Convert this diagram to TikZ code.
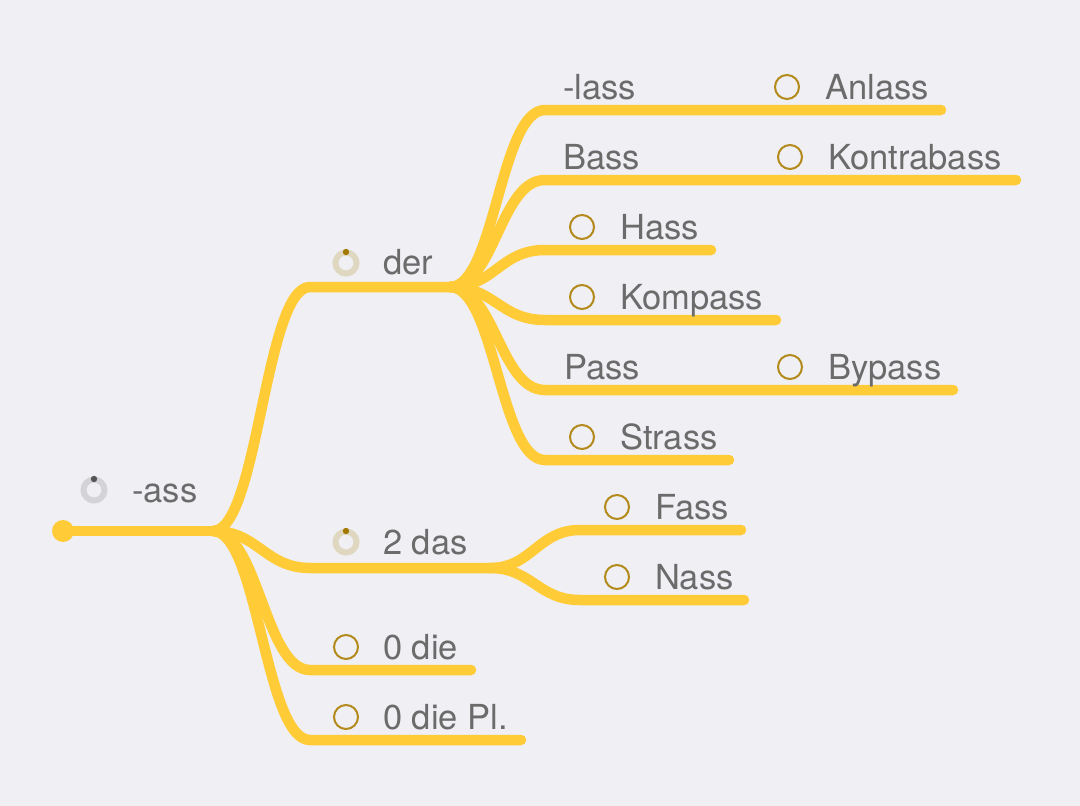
\documentclass[tikz,border=0pt]{standalone}
\usepackage{fontspec}
\setmainfont{TeX Gyre Heros}
\definecolor{bgcol}{HTML}{EFEFF4}
\definecolor{linecol}{HTML}{FFCC38}
\definecolor{textcol}{HTML}{6B6B6B}
\definecolor{boxcol}{HTML}{B48A1C}
\definecolor{ringtan}{HTML}{DFD7C0}
\definecolor{dotgold}{HTML}{A27800}
\definecolor{ringgray}{HTML}{D4D4D8}
\definecolor{dotgray}{HTML}{555555}
\tikzset{
  branch/.style={line width=10.5pt, draw=linecol, line cap=round},
  lbl/.style={anchor=base west, inner sep=0pt, text=textcol, font=\fontsize{34.5}{40}\selectfont},
  checkbox/.style={circle, draw=boxcol, line width=2pt, minimum size=24pt, inner sep=0pt},
  ring/.style={line width=6pt},
}

\begin{document}
\begin{tikzpicture}[x=1pt, y=-1pt]
		\fill[bgcol] (0,0) rectangle (1080,806);
		\useasboundingbox (0,0) rectangle (1080,806);
		
		% branch points
		\coordinate (root) at (63,531);
		\coordinate (fork) at (213,531);
		\coordinate (derA) at (310,287);
		\coordinate (derB) at (450,287);
		\coordinate (dasA) at (310,568);
		\coordinate (dasB) at (490,568);
		\coordinate (dieA) at (310,670);
		\coordinate (dieB) at (471,670);
		\coordinate (plA) at (310,740);
		\coordinate (plB) at (521,740);
		
		\coordinate (lassA) at (545,110);
		\coordinate (lassB) at (941,110);
		\coordinate (bassA) at (545,180);
		\coordinate (bassB) at (1016,180);
		\coordinate (hassA) at (545,250);
		\coordinate (hassB) at (711,250);
		\coordinate (kompassA) at (545,320);
		\coordinate (kompassB) at (776,320);
		\coordinate (passA) at (545,390);
		\coordinate (passB) at (953,390);
		\coordinate (strassA) at (545,460);
		\coordinate (strassB) at (729,460);
		
		\coordinate (fassA) at (580,530);
		\coordinate (fassB) at (741,530);
		\coordinate (nassA) at (580,600);
		\coordinate (nassB) at (744,600);
		
		% connectors
		\draw[branch] (root) -- (fork);
		\fill[linecol] (root) circle (11);
		\foreach \n in {der,das,die,pl}
			\draw[branch] (fork) .. controls +(45,0) and +(-45,0) .. (\n A) -- (\n B);
		\foreach \n in {lass,bass,hass,kompass,pass,strass}
			\draw[branch] (derB) .. controls +(45,0) and +(-45,0) .. (\n A) -- (\n B);
		\foreach \n in {fass,nass}
			\draw[branch] (dasB) .. controls +(42,0) and +(-42,0) .. (\n A) -- (\n B);
		
		% progress rings
		\draw[ring, ringgray] (94,490) circle (10.5);
		\fill[dotgray] (94,479) circle (3.2);
		\draw[ring, ringtan] (346,263) circle (10.5);
		\fill[dotgold] (346,252) circle (3.2);
		\draw[ring, ringtan] (346,542) circle (10.5);
		\fill[dotgold] (346,531) circle (3.2);
		
		% labels
		\node[lbl] (ass) at (132,502) {-ass};
		\node[lbl] (der) at (383,274) {der};
		\node[lbl] (das) at (383,554) {2 das};
		\node[checkbox] (cbdie) at (346,647) {};
		\node[lbl] (die) at (383,659) {0 die};
		\node[checkbox] (cbpl) at (346,717) {};
		\node[lbl] (pl) at (383,729) {0 die Pl.};
		
		\node[lbl] (lass) at (563,99) {-lass};
		\node[checkbox] (cbanlass) at (787,87) {};
		\node[lbl] (anlass) at (825,99) {Anlass};
		\node[lbl] (bass) at (563,169) {Bass};
		\node[checkbox] (cbkontra) at (790,157) {};
		\node[lbl] (kontra) at (828,169) {Kontrabass};
		\node[checkbox] (cbhass) at (582,227) {};
		\node[lbl] (hass) at (620,239) {Hass};
		\node[checkbox] (cbkompass) at (582,297) {};
		\node[lbl] (kompass) at (620,309) {Kompass};
		\node[lbl] (pass) at (564,379) {Pass};
		\node[checkbox] (cbbypass) at (790,367) {};
		\node[lbl] (bypass) at (828,379) {Bypass};
		\node[checkbox] (cbstrass) at (582,437) {};
		\node[lbl] (strass) at (620,449) {Strass};
		
		\node[checkbox] (cbfass) at (617,507) {};
		\node[lbl] (fass) at (655,519) {Fass};
		\node[checkbox] (cbnass) at (617,577) {};
		\node[lbl] (nass) at (655,589) {Nass};
	\end{tikzpicture}
\end{document}
